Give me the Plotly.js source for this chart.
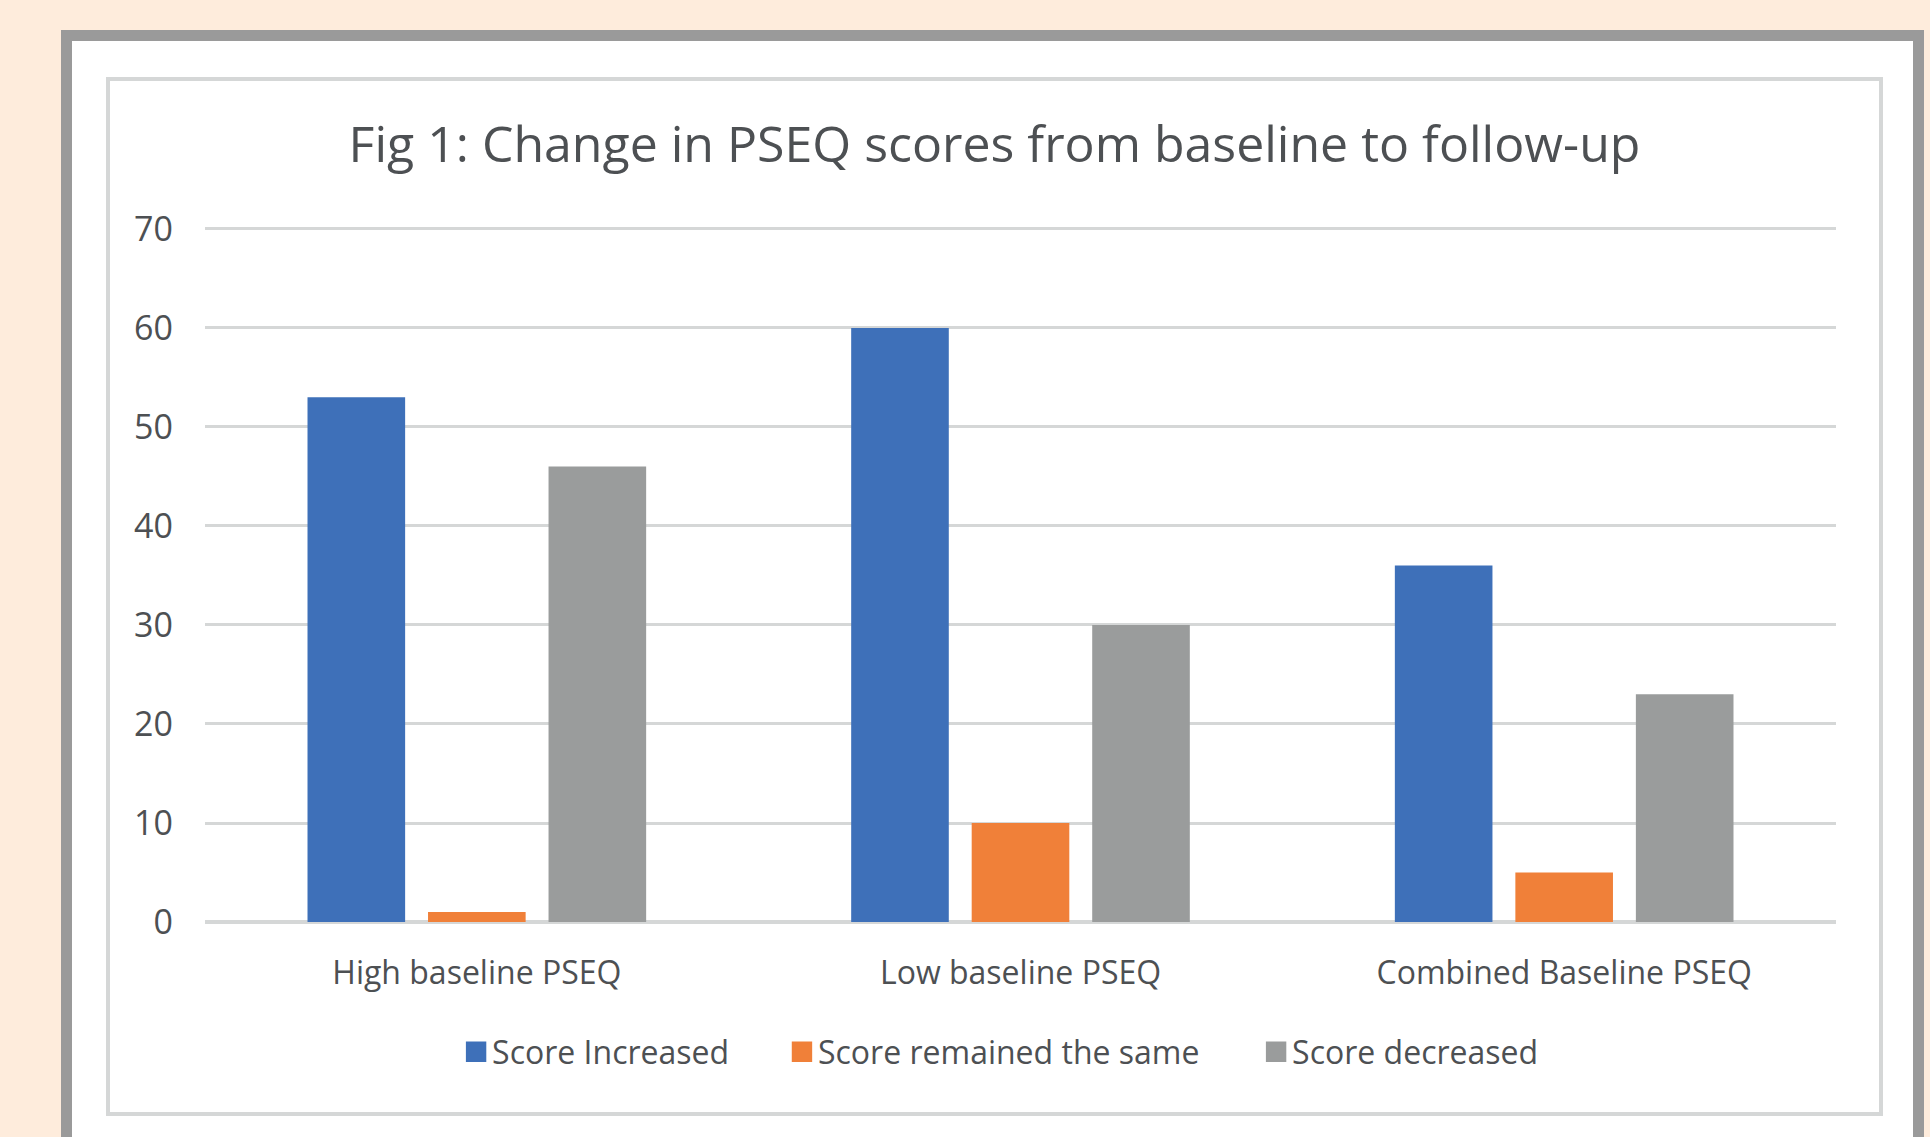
<!DOCTYPE html>
<html>
<head>
<meta charset="utf-8">
<script src="https://cdn.plot.ly/plotly-3.0.1.min.js"></script>
<style>
  html, body { margin:0; padding:0; width:1930px; height:1137px; overflow:hidden; background:#feecdc; }
  #frame { position:absolute; left:61px; top:30px; width:1841px; height:1200px; border:11px solid #9a9a9a; background:#ffffff; box-sizing:content-box; }
  #inner { position:absolute; left:106px; top:77px; width:1769px; height:1031px; border:4px solid #d5d7d7; background:#ffffff; }
  #chart { width:1769px; height:1031px; }
  #chart .legendpoints path { transform: translate(24px, 0px) scale(1.7); }
</style>
</head>
<body>
<div id="frame"></div>
<div id="inner"><div id="chart"></div></div>
<script>
const categories = ["High baseline PSEQ", "Low baseline PSEQ", "Combined Baseline PSEQ"];
const seriesNames = ["Score Increased", "Score remained the same", "Score decreased"];
const scoreIncreased = [53, 60, 36];
const scoreSame = [1, 10, 5];
const scoreDecreased = [46, 30, 23];
const tickValues = [0, 10, 20, 30, 40, 50, 60, 70];
const colors = ["#3e70b9", "#f08039", "#9a9c9c"];

const font = "Open Sans, Noto Sans, sans-serif";
const textColor = "#4d5053";
const legendIds = ["legend", "legend2", "legend3"];
const legendX = [0.1515, 0.3513, 0.642];

const traces = [scoreIncreased, scoreSame, scoreDecreased].map((vals, i) => ({
  type: "bar",
  name: seriesNames[i],
  x: categories,
  y: vals,
  legend: legendIds[i],
  marker: { color: colors[i], line: { width: 0 } },
  hoverinfo: "x+y+name"
}));

function legendAt(x) {
  return {
    orientation: "h",
    x: x, xanchor: "left",
    y: 60 / 1031, yref: "container", yanchor: "middle",
    font: { family: font, size: 32, color: textColor },
    itemwidth: 30,
    bgcolor: "rgba(0,0,0,0)",
    borderwidth: 0
  };
}

const layout = {
  width: 1769,
  height: 1031,
  paper_bgcolor: "#ffffff",
  plot_bgcolor: "#ffffff",
  margin: { l: 95, r: 43, t: 145, b: 190 },
  title: {
    text: "Fig 1: Change in PSEQ scores from baseline to follow-up",
    font: { family: font, size: 50, color: textColor },
    x: 0.5, xanchor: "center",
    y: 1 - 63 / 1031, yanchor: "middle", yref: "container"
  },
  barmode: "group",
  bargap: 0.335,
  bargroupgap: 0.19,
  xaxis: {
    type: "category",
    showgrid: false,
    showline: false,
    zeroline: false,
    ticks: "",
    tickfont: { family: font, size: 32, color: textColor },
    ticklabelstandoff: 29,
    fixedrange: true
  },
  yaxis: {
    range: [0, 70.3],
    tickvals: tickValues,
    ticktext: tickValues.map(String),
    showgrid: true,
    gridcolor: "#d5d7d7",
    gridwidth: 3,
    zeroline: true,
    zerolinecolor: "#d5d7d7",
    zerolinewidth: 4,
    showline: false,
    ticks: "",
    tickfont: { family: font, size: 34, color: textColor },
    ticklabelstandoff: 31,
    fixedrange: true
  },
  showlegend: true,
  legend: legendAt(legendX[0]),
  legend2: legendAt(legendX[1]),
  legend3: legendAt(legendX[2])
};

Plotly.newPlot("chart", traces, layout, { displayModeBar: false });
</script>
</body>
</html>
